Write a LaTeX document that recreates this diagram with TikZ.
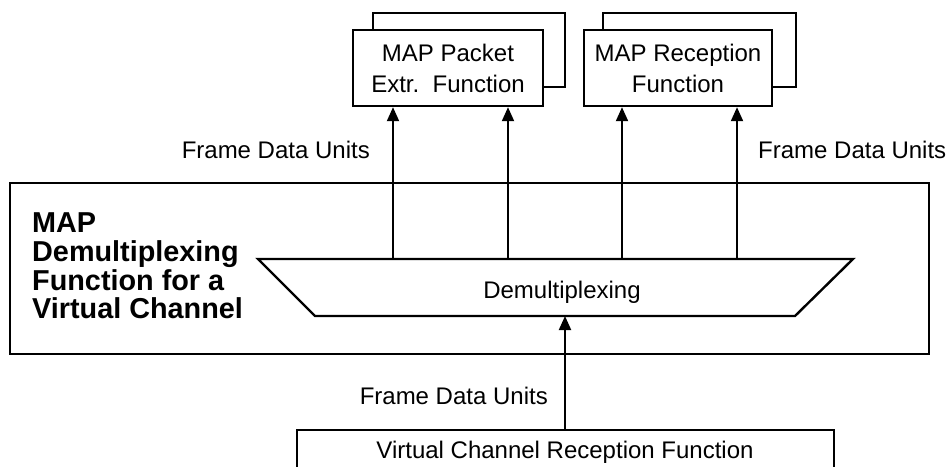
\documentclass[tikz,border=0pt]{standalone}
\usepackage{fontspec}
\setmainfont{Liberation Sans}
\usetikzlibrary{arrows.meta}
\tikzset{
  fnbox/.style={draw,line width=2.4pt,fill=white,minimum width=190pt,minimum height=76pt,inner sep=0pt,align=center,font=\fontsize{24}{31}\selectfont},
  fdu/.style={line width=2pt,-{Triangle[length=14pt,width=12pt]}},
  lbl/.style={inner sep=0pt,font=\fontsize{24}{28}\selectfont}
}
\begin{document}
\begin{tikzpicture}[x=1pt,y=1pt,yscale=-1,xscale=1]
\useasboundingbox (0,0) rectangle (949,466);

%Shape: Rectangle (outer function)
\draw[line width=2.4pt] (10,183) rectangle (929,354);
% Text Node
\node[anchor=west,inner sep=0pt,align=left,font=\fontsize{28.8}{28.7}\selectfont\bfseries] (title) at (32,266) {MAP\\Demultiplexing\\Function for a\\Virtual Channel};

%Shape: Trapezoid
\coordinate (tl) at (258,259);
\coordinate (tr) at (853,259);
\coordinate (br) at (795,316);
\coordinate (bl) at (315,316);
\draw[line width=2.4pt] (tl) -- (tr) -- (br) -- (bl) -- cycle;
\node[lbl] (demux) at (562,292) {Demultiplexing};

%Shape: Rectangle (back copies)
\draw[line width=2.4pt,fill=white] (373,13) rectangle (565,87);
\draw[line width=2.4pt,fill=white] (603,13) rectangle (796,87);
% Text Node
\node[fnbox] (pkt) at (448,68) {MAP Packet\\Extr.\ \ Function};
\node[fnbox,minimum width=188pt] (rcv) at (678,68) {MAP Reception\\Function};

%Shape: Rectangle (reception below)
\draw[line width=2.4pt] (297,470) -- (297,430) -- (834,430) -- (834,470);
\node[lbl] (vcrf) at (565,452) {Virtual Channel Reception Function};
\coordinate (vc) at (565,430);

% Arrows
\coordinate (d1) at (393,259);
\coordinate (d2) at (508,259);
\coordinate (d3) at (622,259);
\coordinate (d4) at (737,259);
\draw[fdu] (d1) -- (d1 |- pkt.south);
\draw[fdu] (d2) -- (d2 |- pkt.south);
\draw[fdu] (d3) -- (d3 |- rcv.south);
\draw[fdu] (d4) -- (d4 |- rcv.south);
\draw[fdu] (vc) -- (vc |- bl);

% Text Node
\node[lbl,anchor=east] (fdul) at (370,150) {Frame Data Units};
\node[lbl,anchor=west] (fdur) at (758,150) {Frame Data Units};
\node[lbl,anchor=east] (fdub) at (548,396) {Frame Data Units};
\end{tikzpicture}
\end{document}
